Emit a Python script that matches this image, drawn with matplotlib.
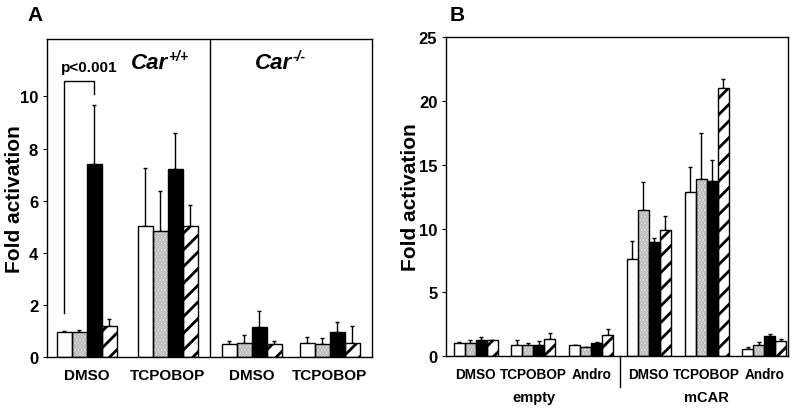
import matplotlib
matplotlib.use("Agg")
import matplotlib.pyplot as plt
import numpy as np

plt.rcParams['font.family'] = ['Liberation Sans', 'DejaVu Sans']
plt.rcParams['font.weight'] = 'bold'
plt.rcParams['hatch.linewidth'] = 2.0

# ---- panel A data (Car+/+ then Car-/-) ----
a_groups = ['DMSO', 'TCPOBOP', 'DMSO', 'TCPOBOP']
a_white = [0.97, 5.02, 0.48, 0.55]
a_dot = [0.97, 4.85, 0.55, 0.51]
a_black = [7.41, 7.20, 1.14, 0.95]
a_hatch = [1.20, 5.02, 0.48, 0.55]
a_white_err = [0.03, 2.23, 0.15, 0.21]
a_dot_err = [0.05, 1.52, 0.28, 0.23]
a_black_err = [2.28, 1.38, 0.64, 0.38]
a_hatch_err = [0.26, 0.83, 0.15, 0.63]

# ---- panel B data ----
b_groups = ['DMSO', 'TCPOBOP', 'Andro', 'DMSO', 'TCPOBOP', 'Andro']
b_white = [1.02, 0.84, 0.84, 7.63, 12.90, 0.57]
b_dot = [1.02, 0.84, 0.70, 11.47, 13.85, 0.84]
b_black = [1.23, 0.84, 1.02, 8.93, 13.69, 1.57]
b_hatch = [1.23, 1.36, 1.62, 9.85, 21.03, 1.15]
b_white_err = [0.08, 0.46, 0.02, 1.37, 1.90, 0.13]
b_dot_err = [0.28, 0.21, 0.03, 2.17, 3.63, 0.26]
b_black_err = [0.26, 0.34, 0.05, 0.34, 1.70, 0.18]
b_hatch_err = [0.07, 0.44, 0.47, 1.10, 0.65, 0.21]

# fill, hatch, hatch colour
styles = [
    ('white', None, 'black'),
    ('#eeeeee', '.....', '#a8a8a8'),
    ('black', None, 'black'),
    ('white', '//', 'black'),
]


def draw_bars(ax, centers, series, errs):
    for k, (vals, err, st) in enumerate(zip(series, errs, styles)):
        fc, hatch, hc = st
        x = np.array(centers) + (k - 1.5)
        # fill + hatch, then a black outline on top
        ax.bar(x, vals, width=1.0, facecolor=fc, edgecolor=hc, linewidth=0,
               hatch=hatch, zorder=2)
        ax.bar(x, vals, width=1.0, facecolor='none', edgecolor='black',
               linewidth=1.0, zorder=3)
        ax.errorbar(x, vals, yerr=[np.zeros(len(vals)), err], fmt='none',
                    ecolor='black', elinewidth=1.0, capsize=1.5, capthick=1.0, zorder=1)


fig = plt.figure(figsize=(8, 4.1), dpi=100)

# ---------------- panel A ----------------
axA = fig.add_axes([0.059, 0.127, 0.406, 0.775])
a_pos = [2.65, 8.05, 13.65, 18.85]
draw_bars(axA, a_pos,
          [a_white, a_dot, a_black, a_hatch],
          [a_white_err, a_dot_err, a_black_err, a_hatch_err])
axA.set_xlim(0, 21.67)
axA.set_ylim(0, 12.2)
axA.set_yticks([0, 2, 4, 6, 8, 10])
axA.set_xticks(a_pos)
axA.set_xticklabels(a_groups, fontsize=11, fontweight='bold')
axA.tick_params(axis='x', length=0, pad=8)
axA.tick_params(axis='y', labelsize=12, length=3, direction='out')
axA.axvline(10.87, color='black', linewidth=1.0)
axA.set_ylabel('Fold activation', fontsize=15, fontweight='bold')
axA.yaxis.set_label_coords(-0.071, 0.5)
axA.text(8.05, 11.3, 'Car', fontsize=16, fontweight='bold', style='italic', ha='right', va='center')
axA.text(8.1, 11.55, '+/+', fontsize=10, fontweight='bold', style='italic', ha='left', va='center')
axA.text(16.35, 11.3, 'Car', fontsize=16, fontweight='bold', style='italic', ha='right', va='center')
axA.text(16.4, 11.55, '-/-', fontsize=10, fontweight='bold', style='italic', ha='left', va='center')
axA.text(2.8, 10.85, 'p<0.001', fontsize=11, fontweight='bold', ha='center', va='bottom')
x0, x1 = a_pos[0] - 1.5, a_pos[0] + 0.5
axA.plot([x0, x0, x1, x1], [1.7, 10.6, 10.6, 10.1], color='black', linewidth=1.0)
for s in axA.spines.values():
    s.set_linewidth(1.0)
fig.text(0.034, 0.963, 'A', fontsize=15, fontweight='bold', ha='left', va='center')

# ---------------- panel B ----------------
axB = fig.add_axes([0.558, 0.129, 0.427, 0.778])
b_pos = list(2.66 + np.arange(6) * 5.24)
draw_bars(axB, b_pos,
          [b_white, b_dot, b_black, b_hatch],
          [b_white_err, b_dot_err, b_black_err, b_hatch_err])
axB.set_xlim(0, 31.0)
axB.set_ylim(0, 25)
axB.set_yticks([0, 5, 10, 15, 20, 25])
axB.set_xticks(b_pos)
axB.set_xticklabels(b_groups, fontsize=9.8, fontweight='bold')
axB.tick_params(axis='x', length=0, pad=8)
axB.tick_params(axis='y', labelsize=12, length=3, direction='out')
axB.set_ylabel('Fold activation', fontsize=15, fontweight='bold')
axB.yaxis.set_label_coords(-0.078, 0.5)
axB.plot([15.75, 15.75], [0, -2.45], color='black', linewidth=1.0, clip_on=False)
axB.text(np.mean(b_pos[:3]), -3.2, 'empty', fontsize=10.5, fontweight='bold', ha='center', va='center')
axB.text(np.mean(b_pos[3:]), -3.2, 'mCAR', fontsize=10.5, fontweight='bold', ha='center', va='center')
for s in axB.spines.values():
    s.set_linewidth(1.0)
fig.text(0.562, 0.963, 'B', fontsize=15, fontweight='bold', ha='left', va='center')

fig.savefig('out.png', dpi=100)
